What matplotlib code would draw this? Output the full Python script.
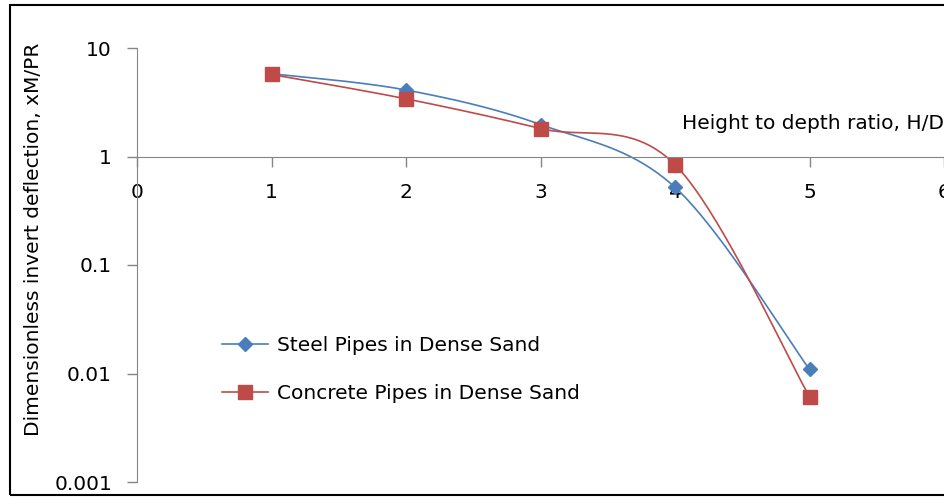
import numpy as np
import matplotlib.pyplot as plt
from matplotlib.patches import Rectangle
from matplotlib.ticker import FixedLocator, FixedFormatter, NullLocator

ratio = [1, 2, 3, 4, 5]
steel = [5.8, 4.1, 1.97, 0.52, 0.0109]
concrete = [5.7, 3.4, 1.81, 0.84, 0.0061]

y_ticks = [0.001, 0.01, 0.1, 1, 10]
y_labels = ["0.001", "0.01", "0.1", "1", "10"]
x_ticks = [0, 1, 2, 3, 4, 5, 6]


def smooth(x, y, n=40):
    # Catmull-Rom through the points, done in log space like a smoothed Excel line
    px = np.asarray(x, float)
    py = np.log10(np.asarray(y, float))
    px = np.concatenate([[px[0]], px, [px[-1]]])
    py = np.concatenate([[py[0]], py, [py[-1]]])
    xs, ys = [], []
    t = np.linspace(0, 1, n)
    for i in range(1, len(px) - 2):
        for p, out in ((px, xs), (py, ys)):
            p0, p1, p2, p3 = p[i - 1], p[i], p[i + 1], p[i + 2]
            out.append(0.5 * (2 * p1 + (-p0 + p2) * t
                              + (2 * p0 - 5 * p1 + 4 * p2 - p3) * t ** 2
                              + (-p0 + 3 * p1 - 3 * p2 + p3) * t ** 3))
    return np.concatenate(xs), 10 ** np.concatenate(ys)


plt.rcParams['font.family'] = ['DejaVu Sans']
fs = 14.5
fig = plt.figure(figsize=(9.45, 5.0), dpi=100)
ax = fig.add_axes([0.145, 0.036, 0.854, 0.868])

blue = "#4A7EBB"
red = "#BE4B48"

sx, sy = smooth(ratio, steel)
cx, cy = smooth(ratio, concrete)
ax.plot(sx, sy, color=blue, lw=1.2)
ax.plot(cx, cy, color=red, lw=1.2)
ax.plot(ratio, steel, 'D', color=blue, ms=7)
ax.plot(ratio, concrete, 's', color=red, ms=9.5)

# legend handles
ax.plot([], [], color=blue, lw=1.2, marker='D', ms=7, label="Steel Pipes in Dense Sand")
ax.plot([], [], color=red, lw=1.2, marker='s', ms=9.5, label="Concrete Pipes in Dense Sand")
ax.legend(loc='upper left', bbox_to_anchor=(0.095, 0.355), frameon=False,
          fontsize=fs, handlelength=2.3, handletextpad=0.45, labelspacing=1.45,
          borderaxespad=0)

ax.set_yscale('log')
ax.set_ylim(0.001, 10)
ax.set_xlim(0, 6)
ax.yaxis.set_major_locator(FixedLocator(y_ticks))
ax.yaxis.set_major_formatter(FixedFormatter(y_labels))
ax.yaxis.set_minor_locator(NullLocator())
ax.set_xticks(x_ticks)

grey = "#868686"
for s in ['top', 'right']:
    ax.spines[s].set_visible(False)
ax.spines['left'].set_color(grey)
ax.spines['bottom'].set_color(grey)
ax.spines['bottom'].set_position(('data', 1))
ax.tick_params(axis='both', colors=grey, labelcolor='black', labelsize=fs,
               length=7, width=1)
ax.tick_params(axis='x', pad=12)
ax.tick_params(axis='y', pad=11)

ax.set_ylabel("Dimensionless invert deflection, xM/PR", fontsize=fs)
ax.yaxis.set_label_coords(-0.117, 0.56)
ax.text(1.0, 0.827, "Height to depth ratio, H/D", transform=ax.transAxes,
        ha='right', va='center', fontsize=fs)

fig.patches.append(Rectangle((0.011, 0.01), 1.2, 0.98, transform=fig.transFigure,
                             fill=False, edgecolor='black', lw=1.5, clip_on=False))

fig.savefig("out.png", dpi=100)
